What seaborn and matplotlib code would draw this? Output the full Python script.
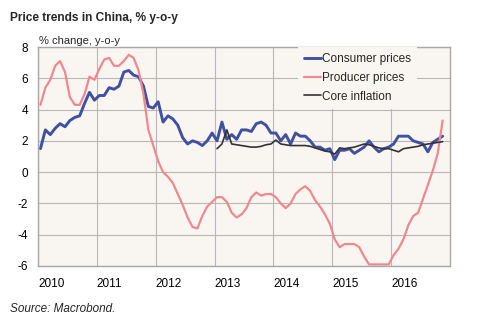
import numpy as np
import pandas as pd
import seaborn as sns
import matplotlib.pyplot as plt

# Monthly year-on-year rates, Jan 2010 - Nov 2016
consumer_prices = [
    1.5, 2.7, 2.4, 2.8, 3.1, 2.9, 3.3, 3.5, 3.6, 4.4, 5.1, 4.6,
    4.9, 4.9, 5.4, 5.3, 5.5, 6.4, 6.5, 6.2, 6.1, 5.5, 4.2, 4.1,
    4.5, 3.2, 3.6, 3.4, 3.0, 2.2, 1.8, 2.0, 1.9, 1.7, 2.0, 2.5,
    2.0, 3.2, 2.1, 2.4, 2.1, 2.7, 2.7, 2.6, 3.1, 3.2, 3.0, 2.5,
    2.5, 2.0, 2.4, 1.8, 2.5, 2.3, 2.3, 2.0, 1.6, 1.6, 1.4, 1.5,
    0.8, 1.4, 1.4, 1.5, 1.2, 1.4, 1.6, 2.0, 1.6, 1.3, 1.5, 1.6,
    1.8, 2.3, 2.3, 2.3, 2.0, 1.9, 1.8, 1.3, 1.9, 2.1, 2.3,
]
producer_prices = [
    4.3, 5.4, 5.9, 6.8, 7.1, 6.4, 4.8, 4.3, 4.3, 5.0, 6.1, 5.9,
    6.6, 7.2, 7.3, 6.8, 6.8, 7.1, 7.5, 7.3, 6.5, 5.0, 2.7, 1.7,
    0.7, 0.0, -0.3, -0.7, -1.4, -2.1, -2.9, -3.5, -3.6, -2.8, -2.2, -1.9,
    -1.6, -1.6, -1.9, -2.6, -2.9, -2.7, -2.3, -1.6, -1.3, -1.5, -1.4, -1.4,
    -1.6, -2.0, -2.3, -2.0, -1.4, -1.1, -0.9, -1.2, -1.8, -2.2, -2.7, -3.3,
    -4.3, -4.8, -4.6, -4.6, -4.6, -4.8, -5.4, -5.9, -5.9, -5.9, -5.9, -5.9,
    -5.3, -4.9, -4.3, -3.4, -2.8, -2.6, -1.7, -0.8, 0.1, 1.2, 3.3,
]
# Core inflation, Jan 2013 - Nov 2016
core_inflation = [
    1.5, 1.8, 2.7, 1.8, 1.75, 1.7, 1.65, 1.6, 1.6, 1.65, 1.75, 1.8,
    2.05, 1.8, 1.75, 1.7, 1.7, 1.7, 1.7, 1.65, 1.55, 1.45, 1.35, 1.3,
    1.15, 1.55, 1.5, 1.55, 1.6, 1.7, 1.8, 1.75, 1.65, 1.55, 1.5, 1.5,
    1.4, 1.3, 1.5, 1.55, 1.6, 1.65, 1.75, 1.8, 1.85, 1.9, 1.95,
]
series_names = ["Consumer prices", "Producer prices", "Core inflation"]
year_ticks = [2010, 2011, 2012, 2013, 2014, 2015, 2016]
value_ticks = [-6, -4, -2, 0, 2, 4, 6, 8]

def months(start_year, n):
    return [start_year + (i + 0.5) / 12 for i in range(n)]

frames = [
    pd.DataFrame({"date": months(2010, len(consumer_prices)), "value": consumer_prices, "series": series_names[0]}),
    pd.DataFrame({"date": months(2010, len(producer_prices)), "value": producer_prices, "series": series_names[1]}),
    pd.DataFrame({"date": months(2013, len(core_inflation)), "value": core_inflation, "series": series_names[2]}),
]
df = pd.concat(frames, ignore_index=True)

sns.set_theme(style="white")
plt.rcParams["font.family"] = ["Liberation Sans", "DejaVu Sans"]

colors = {"Consumer prices": "#4250a2", "Producer prices": "#f08890", "Core inflation": "#333333"}
widths = {"Consumer prices": 2.1, "Producer prices": 1.6, "Core inflation": 1.2}

fig = plt.figure(figsize=(4.78, 3.23), dpi=100)
ax = fig.add_axes([38 / 478, 1 - 266 / 323, 412 / 478, 219 / 323])
ax.set_facecolor("#f9f5f0")

for name in series_names:
    sub = df[df["series"] == name]
    sns.lineplot(data=sub, x="date", y="value", ax=ax, color=colors[name],
                 linewidth=widths[name], label=name)

ax.set_xlim(2010, 2017)
ax.set_ylim(-6, 8)
ax.set_xticks(year_ticks)
ax.set_xticklabels([str(y) for y in year_ticks])
for lbl in ax.get_xticklabels():
    lbl.set_horizontalalignment("left")
ax.set_yticks(value_ticks)
ax.set_yticklabels([str(v) for v in value_ticks])
ax.tick_params(axis="both", length=0, labelsize=8.5, colors="black")
ax.tick_params(axis="y", pad=7)
ax.tick_params(axis="x", pad=8.5)
ax.set_xlabel("")
ax.set_ylabel("")
ax.grid(True, color="#b8b8b8", linewidth=0.8)
ax.set_axisbelow(True)
for s in ax.spines.values():
    s.set_color("#a8a8a8")
    s.set_linewidth(1.0)

leg = ax.legend(loc="upper right", bbox_to_anchor=((417 - 38) / 412, 1.0),
                borderaxespad=0, fontsize=8.5, frameon=True, fancybox=False,
                facecolor="#f9f5f0", edgecolor="none", framealpha=1,
                handlelength=1.4, handletextpad=0.1, labelspacing=0.58,
                borderpad=0.5)

fig.text(10 / 478, 1 - 21 / 323, "Price trends in China, % y-o-y",
         fontsize=8.6, fontweight="bold", va="baseline")
fig.text(39 / 478, 1 - 44 / 323, "% change, y-o-y", fontsize=8.0, va="baseline")
fig.text(10 / 478, 1 - 312 / 323, "Source: Macrobond.", fontsize=8.5,
         style="italic", va="baseline")

fig.savefig("out.png", dpi=100)
